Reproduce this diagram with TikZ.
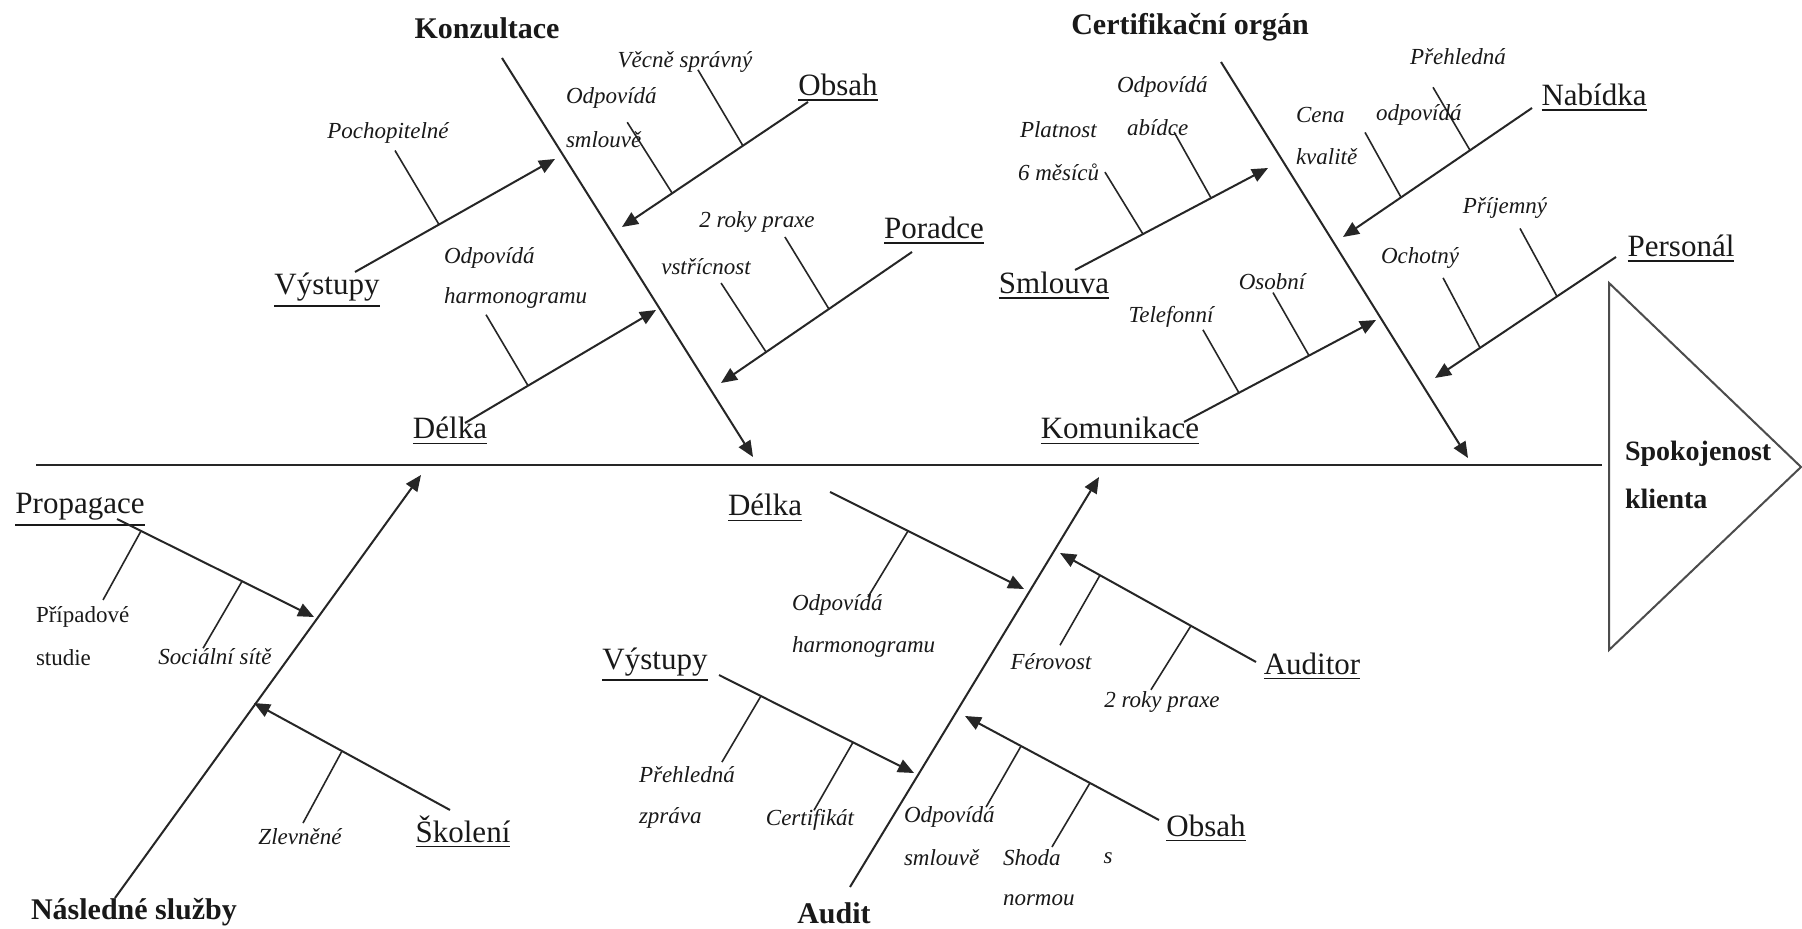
\documentclass[tikz,border=0pt]{standalone}
\usepackage{fontspec}
\setmainfont{Liberation Serif}
\usetikzlibrary{arrows.meta,calc}

% underlined cause label (rule below descenders)
\newcommand\uln[1]{\setbox0\hbox{#1}\vtop{\copy0\kern1.6pt\hrule height 0.9pt width \wd0}}
% small rib on a branch: name, from, fraction, to, offset
\newcommand\fbtick[5]{%
  \coordinate (#1a) at ($(#2)!#3!(#4)$);
  \coordinate (#1b) at ($(#1a)+(#5)$);
  \draw[tick] (#1a) -- (#1b);}

\begin{document}
\begin{tikzpicture}[x=0.5pt,y=-0.5pt,
  every node/.style={inner sep=0pt, outer sep=0pt, text=black!90},
  title/.style={font=\fontsize{15}{18}\selectfont\bfseries},
  cause/.style={font=\fontsize{15.5}{18}\selectfont, anchor=base},
  sub/.style={font=\fontsize{11.5}{14}\selectfont\itshape},
  subup/.style={font=\fontsize{11.5}{14}\selectfont},
  res/.style={font=\fontsize{14}{17}\selectfont\bfseries, anchor=base west},
  bone/.style={draw=black!85, line width=1pt, -{Triangle[length=8pt,width=6.8pt]}},
  branch/.style={draw=black!85, line width=1pt, -{Triangle[length=8pt,width=6.8pt]}},
  tick/.style={draw=black!85, line width=0.8pt},
  spine/.style={draw=black!85, line width=1.2pt},
]
\fill[white] (0,0) rectangle (1802,929);
\useasboundingbox (0,0) rectangle (1802,929);

% ---------- spine and head ----------
\coordinate (spA) at (36,465);
\coordinate (spB) at (1602,465);
\draw[spine] (spA) -- (spB);
\coordinate (hdA) at (1609,283);
\coordinate (hdB) at (1609,650);
\coordinate (hdC) at (1801,467);
\draw[black!70, line width=1pt, line join=miter] (hdA) -- (hdB) -- (hdC) -- cycle;
\node[res] (head1) at (1625,461) {Spokojenost};
\node[res] (head2) at (1625,509) {klienta};

% ---------- Konzultace ----------
\node[title] (konz) at (487,28) {Konzultace};
\coordinate (kzA) at (502,58);
\coordinate (kzB) at (753,457);
\draw[bone] (kzA) -- (kzB);

\node[cause] (kvy) at (327,295) {\uln{Výstupy}};
\coordinate (kvyA) at (355,272);
\coordinate (kvyB) at (555,159);
\draw[branch] (kvyA) -- (kvyB);
\fbtick{tk1}{kvyA}{0.42}{kvyB}{-44,-74}
\node[sub] (kpoch) at (388,133) {Pochopitelné};

\node[cause] (kob) at (838,96) {\uln{Obsah}};
\coordinate (kobA) at (808,102);
\coordinate (kobB) at (622,227);
\draw[branch] (kobA) -- (kobB);
\fbtick{tk2}{kobA}{0.35}{kobB}{-45,-76}
\fbtick{tk3}{kobA}{0.73}{kobB}{-45,-71}
\node[sub] (kvec) at (685,62) {Věcně správný};
\node[sub, anchor=west] (kodp) at (566,98) {Odpovídá};
\node[sub, anchor=west] (ksml) at (566,140) {smlouvě};

\node[cause] (kde) at (450,439) {\uln{Délka}};
\coordinate (kdeA) at (465,423);
\coordinate (kdeB) at (656,310);
\draw[branch] (kdeA) -- (kdeB);
\fbtick{tk4}{kdeA}{0.33}{kdeB}{-42,-71}
\node[sub, anchor=west] (kodh) at (444,258) {Odpovídá};
\node[sub, anchor=west] (kharm) at (444,298) {harmonogramu};

\node[cause] (kpo) at (934,239) {\uln{Poradce}};
\coordinate (kpoA) at (912,252);
\coordinate (kpoB) at (721,383);
\draw[branch] (kpoA) -- (kpoB);
\fbtick{tk5}{kpoA}{0.435}{kpoB}{-44,-72}
\fbtick{tk6}{kpoA}{0.764}{kpoB}{-45,-69}
\node[sub] (kpra) at (757,222) {2 roky praxe};
\node[sub] (kvst) at (706,267) {vstřícnost};

% ---------- Certifikační orgán ----------
\node[title] (cert) at (1190,27) {Certifikační orgán};
\coordinate (ceA) at (1221,62);
\coordinate (ceB) at (1468,458);
\draw[bone] (ceA) -- (ceB);

\node[cause] (csm) at (1054,294) {\uln{Smlouva}};
\coordinate (csmA) at (1075,270);
\coordinate (csmB) at (1268,168);
\draw[branch] (csmA) -- (csmB);
\fbtick{tc1}{csmA}{0.352}{csmB}{-38,-62}
\fbtick{tc2}{csmA}{0.705}{csmB}{-37,-66}
\node[sub, anchor=west] (cpla) at (1020,130) {Platnost};
\node[sub, anchor=west] (cmes) at (1018,172) {6 měsíců};
\node[sub, anchor=west] (codp) at (1117,87) {Odpovídá};
\node[sub, anchor=west] (cabi) at (1127,128) {abídce};

\node[cause] (cna) at (1594,106) {\uln{Nabídka}};
\coordinate (cnaA) at (1532,108);
\coordinate (cnaB) at (1343,237);
\draw[branch] (cnaA) -- (cnaB);
\fbtick{tc3}{cnaA}{0.328}{cnaB}{-37,-63}
\fbtick{tc4}{cnaA}{0.693}{cnaB}{-36,-65}
\node[sub] (cpre) at (1458,57) {Přehledná};
\node[sub, anchor=west] (ccen) at (1296,115) {Cena};
\node[sub, anchor=west] (ckva) at (1296,157) {kvalitě};
\node[sub, anchor=west] (codq) at (1376,115) {odpovídá};

\node[cause] (cko) at (1120,439) {\uln{Komunikace}};
\coordinate (ckoA) at (1184,422);
\coordinate (ckoB) at (1376,320);
\draw[branch] (ckoA) -- (ckoB);
\fbtick{tc5}{ckoA}{0.286}{ckoB}{-36,-63}
\fbtick{tc6}{ckoA}{0.651}{ckoB}{-36,-63}
\node[sub] (ctel) at (1171,317) {Telefonní};
\node[sub] (coso) at (1272,282) {Osobní};

\node[cause] (cpe) at (1681,257) {\uln{Personál}};
\coordinate (cpeA) at (1616,257);
\coordinate (cpeB) at (1435,378);
\draw[branch] (cpeA) -- (cpeB);
\fbtick{tc7}{cpeA}{0.326}{cpeB}{-37,-68}
\fbtick{tc8}{cpeA}{0.751}{cpeB}{-37,-70}
\node[sub] (cpri) at (1505,208) {Příjemný};
\node[sub] (coch) at (1420,258) {Ochotný};

% ---------- Následné služby ----------
\node[title] (nasl) at (134,912) {Následné služby};
\coordinate (nsA) at (115,898);
\coordinate (nsB) at (421,475);
\draw[bone] (nsA) -- (nsB);

\node[cause] (npr) at (80,514) {\uln{Propagace}};
\coordinate (nprA) at (117,519);
\coordinate (nprB) at (314,617);
\draw[branch] (nprA) -- (nprB);
\fbtick{tn1}{nprA}{0.122}{nprB}{-38,69}
\fbtick{tn2}{nprA}{0.635}{nprB}{-39,67}
\node[subup, anchor=west] (npri) at (36,617) {Případové};
\node[subup, anchor=west] (nstu) at (36,658) {studie};
\node[sub] (nsoc) at (215,657) {Sociální sítě};

\node[cause] (nsk) at (463,842) {\uln{Školení}};
\coordinate (nskA) at (450,810);
\coordinate (nskB) at (254,703);
\draw[branch] (nskA) -- (nskB);
\fbtick{tn3}{nskA}{0.551}{nskB}{-39,72}
\node[sub] (nzle) at (300,837) {Zlevněné};

% ---------- Audit ----------
\node[title] (audit) at (834,913) {Audit};
\coordinate (auA) at (850,887);
\coordinate (auB) at (1099,477);
\draw[bone] (auA) -- (auB);

\node[cause] (ade) at (765,516) {\uln{Délka}};
\coordinate (adeA) at (830,492);
\coordinate (adeB) at (1024,589);
\draw[branch] (adeA) -- (adeB);
\fbtick{ta1}{adeA}{0.402}{adeB}{-40,66}
\node[sub, anchor=west] (aodh) at (792,605) {Odpovídá};
\node[sub, anchor=west] (aharm) at (792,647) {harmonogramu};

\node[cause] (avy) at (655,669) {\uln{Výstupy}};
\coordinate (avyA) at (719,675);
\coordinate (avyB) at (914,773);
\draw[branch] (avyA) -- (avyB);
\fbtick{ta2}{avyA}{0.215}{avyB}{-39,66}
\fbtick{ta3}{avyA}{0.687}{avyB}{-39,68}
\node[sub, anchor=west] (apre) at (639,775) {Přehledná};
\node[sub, anchor=west] (azpr) at (639,818) {zpráva};
\node[sub] (acer) at (810,820) {Certifikát};

\node[cause] (aau) at (1312,674) {\uln{Auditor}};
\coordinate (aauA) at (1256,662);
\coordinate (aauB) at (1060,553);
\draw[branch] (aauA) -- (aauB);
\fbtick{ta4}{aauA}{0.796}{aauB}{-40,70}
\fbtick{ta5}{aauA}{0.332}{aauB}{-40,64}
\node[sub] (afer) at (1051,662) {Férovost};
\node[sub] (apra) at (1162,702) {2 roky praxe};

\node[cause] (aob) at (1206,836) {\uln{Obsah}};
\coordinate (aobA) at (1159,820);
\coordinate (aobB) at (965,716);
\draw[branch] (aobA) -- (aobB);
\fbtick{ta6}{aobA}{0.711}{aobB}{-35,61}
\fbtick{ta7}{aobA}{0.356}{aobB}{-38,64}
\node[sub, anchor=west] (aodp) at (904,817) {Odpovídá};
\node[sub, anchor=west] (asml) at (904,858) {smlouvě};
\node[sub, anchor=west] (asho) at (1003,858) {Shoda};
\node[sub] (as) at (1108,858) {s};
\node[sub, anchor=west] (anor) at (1003,900) {normou};

\end{tikzpicture}
\end{document}
